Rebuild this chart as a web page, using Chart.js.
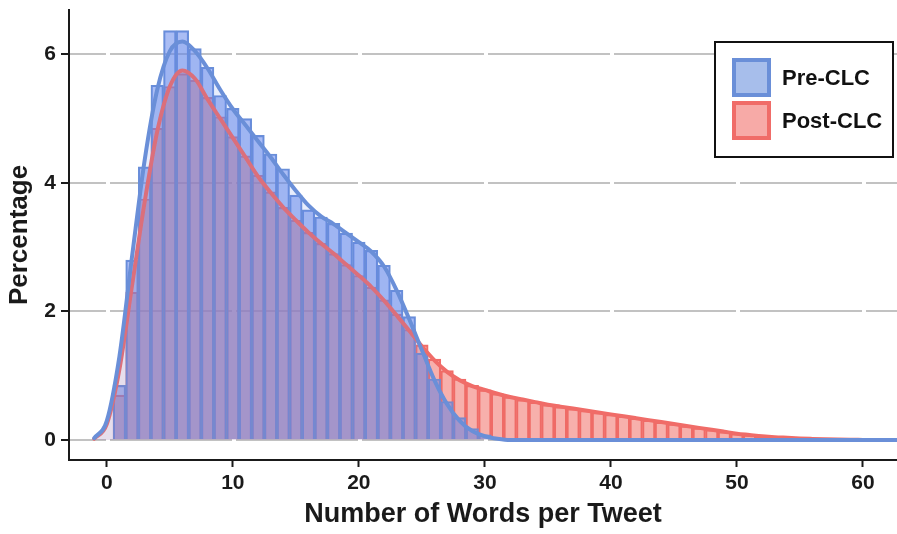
<!DOCTYPE html>
<html>
<head>
<meta charset="utf-8">
<script src="https://cdn.jsdelivr.net/npm/chart.js@4.4.0/dist/chart.umd.min.js"></script>
<style>
    body { margin: 0; background: #fff; }
    #wrap { width: 897px; height: 534px; position: relative; }
</style>
</head>
<body>
<div id="wrap"><canvas id="wordsChart"></canvas></div>
<script>
// Words per tweet, pre vs post character limit change

const seriesNames = ['Pre-CLC', 'Post-CLC'];

// histogram bins (one word wide)
const wordBins = [1, 2, 3, 4, 5, 6, 7, 8, 9, 10, 11, 12, 13, 14, 15, 16, 17, 18, 19, 20,
    21, 22, 23, 24, 25, 26, 27, 28, 29, 30, 31, 32, 33, 34, 35, 36, 37, 38, 39, 40,
    41, 42, 43, 44, 45, 46, 47, 48, 49, 50, 51, 52, 53, 54, 55, 56, 57, 58];

const preBars = [0.85, 2.8, 4.25, 5.52, 6.37, 6.37, 6.09, 5.8, 5.36, 5.16, 5.0, 4.74, 4.45, 4.22, 3.81,
    3.58, 3.47, 3.37, 3.22, 3.08, 2.95, 2.72, 2.33, 1.92, 1.35, 0.95, 0.6, 0.35, 0.18, 0.08, 0.03,
    0, 0, 0, 0, 0, 0, 0, 0, 0, 0, 0, 0, 0, 0, 0, 0, 0, 0, 0, 0, 0, 0, 0, 0, 0, 0, 0];

const postBars = [0.7, 2.3, 3.75, 4.85, 5.5, 5.7, 5.6, 5.33, 5.03, 4.72, 4.42, 4.12, 3.86, 3.62, 3.42,
    3.23, 3.06, 2.9, 2.73, 2.56, 2.38, 2.18, 1.96, 1.72, 1.48, 1.26, 1.08, 0.95, 0.85, 0.78,
    0.72, 0.67, 0.63, 0.59, 0.55, 0.52, 0.49, 0.46, 0.43, 0.4, 0.37, 0.34, 0.31, 0.28, 0.25,
    0.22, 0.19, 0.16, 0.13, 0.1, 0.08, 0.06, 0.045, 0.035, 0.025, 0.018, 0.012, 0.008];

// density curves
const densityX = [-1, 0, 1, 2, 3, 4, 5, 6, 7, 8, 9, 10, 11, 12, 13, 14, 15, 16, 17, 18, 19, 20,
    21, 22, 23, 24, 25, 26, 27, 28, 29, 30, 31, 32, 33, 34, 35, 36, 37, 38, 39, 40,
    41, 42, 43, 44, 45, 46, 47, 48, 49, 50, 51, 52, 53, 54, 55, 56, 57, 58, 59, 60, 61, 62, 63];

const preDensity = [0.03, 0.3, 1.3, 2.85, 4.35, 5.45, 6.05, 6.2, 6.05, 5.78, 5.45, 5.15, 4.9, 4.65,
    4.4, 4.13, 3.88, 3.65, 3.48, 3.36, 3.22, 3.08, 2.93, 2.7, 2.33, 1.88, 1.4, 0.93, 0.56, 0.3,
    0.14, 0.06, 0.02, 0, 0, 0, 0, 0, 0, 0, 0, 0, 0, 0, 0, 0, 0, 0, 0, 0, 0, 0, 0, 0, 0, 0, 0, 0,
    0, 0, 0, 0, 0, 0, 0];

const postDensity = [0.02, 0.25, 1.1, 2.4, 3.7, 4.8, 5.5, 5.75, 5.62, 5.3, 5.0, 4.7, 4.4, 4.1, 3.85,
    3.62, 3.42, 3.23, 3.06, 2.9, 2.73, 2.56, 2.38, 2.17, 1.94, 1.7, 1.46, 1.24, 1.06, 0.93, 0.84,
    0.78, 0.72, 0.67, 0.63, 0.59, 0.55, 0.52, 0.49, 0.46, 0.43, 0.4, 0.37, 0.34, 0.31, 0.28, 0.25,
    0.22, 0.19, 0.16, 0.13, 0.1, 0.08, 0.06, 0.045, 0.035, 0.025, 0.018, 0.012, 0.008, 0.005,
    0.003, 0.001, 0, 0];

const xTickVals = [0, 10, 20, 30, 40, 50, 60];
const yTickVals = [0, 2, 4, 6];

const FONT = "'Liberation Sans', Arial, Helvetica, sans-serif";
const BLUE = '#6a8fd8';
const RED = '#f06c68';
const BLUE_FILL = 'rgba(100, 135, 235, 0.55)';
const RED_FILL = 'rgba(240, 110, 105, 0.48)';

function pairs(xs, ys) {
    return xs.map((x, i) => ({ x: x, y: ys[i] }));
}

// boxed legend in the top right corner
const boxLegend = {
    id: 'boxLegend',
    afterDraw(chart) {
        const ctx = chart.ctx;
        const left = 715, top = 42, w = 178, h = 115;
        ctx.save();
        ctx.fillStyle = '#fff';
        ctx.fillRect(left, top, w, h);
        ctx.strokeStyle = '#111';
        ctx.lineWidth = 2;
        ctx.strokeRect(left, top, w, h);

        const keys = [
            { fill: 'rgba(120, 155, 225, 0.65)', stroke: BLUE },
            { fill: 'rgba(242, 125, 120, 0.65)', stroke: RED }
        ];
        keys.forEach((k, i) => {
            const ky = top + 16 + i * 43;
            ctx.fillStyle = '#fff';
            ctx.fillRect(left + 17, ky, 39, 39);
            ctx.fillStyle = k.fill;
            ctx.fillRect(left + 17, ky, 39, 39);
            ctx.strokeStyle = k.stroke;
            ctx.lineWidth = 4;
            ctx.strokeRect(left + 19, ky + 2, 35, 35);
            ctx.fillStyle = '#111';
            ctx.font = 'bold 22px ' + FONT;
            ctx.textBaseline = 'middle';
            ctx.fillText(seriesNames[i], left + 67, ky + 21);
        });
        ctx.restore();
    }
};

function initChart() {
    const ctx = document.getElementById('wordsChart');
    new Chart(ctx, {
        type: 'bar',
        data: {
            datasets: [
                {
                    type: 'line',
                    label: seriesNames[0] + ' density',
                    data: pairs(densityX, preDensity),
                    borderColor: BLUE,
                    backgroundColor: 'rgba(100, 135, 235, 0.15)',
                    borderWidth: 4,
                    pointRadius: 0,
                    fill: 'origin',
                    cubicInterpolationMode: 'monotone',
                    borderCapStyle: 'round',
                    order: 0
                },
                {
                    type: 'line',
                    label: seriesNames[1] + ' density',
                    data: pairs(densityX, postDensity),
                    borderColor: RED,
                    backgroundColor: 'rgba(240, 105, 100, 0.12)',
                    borderWidth: 4,
                    pointRadius: 0,
                    fill: 'origin',
                    cubicInterpolationMode: 'monotone',
                    borderCapStyle: 'round',
                    order: 1
                },
                {
                    label: seriesNames[0],
                    data: pairs(wordBins, preBars),
                    backgroundColor: BLUE_FILL,
                    borderColor: BLUE,
                    borderWidth: 1.5,
                    grouped: false,
                    barPercentage: 1,
                    categoryPercentage: 1,
                    order: 2
                },
                {
                    label: seriesNames[1],
                    data: pairs(wordBins, postBars),
                    backgroundColor: RED_FILL,
                    borderColor: RED,
                    borderWidth: 1.5,
                    grouped: false,
                    barPercentage: 1,
                    categoryPercentage: 1,
                    order: 3
                }
            ]
        },
        options: {
            responsive: true,
            maintainAspectRatio: false,
            animation: false,
            devicePixelRatio: 1,
            layout: { padding: { top: 10, right: 0, left: 0, bottom: 0 } },
            plugins: {
                legend: { display: false },
                tooltip: { enabled: false }
            },
            scales: {
                x: {
                    type: 'linear',
                    min: -3,
                    max: 62.7,
                    offset: false,
                    afterBuildTicks: s => { s.ticks = xTickVals.map(v => ({ value: v })); },
                    afterFit: s => { s.height = 74; s.paddingLeft = 0; s.paddingRight = 0; },
                    ticks: {
                        color: '#1a1a1a',
                        font: { family: FONT, size: 21, weight: 'bold' },
                        padding: 4,
                        maxRotation: 0,
                        autoSkip: false
                    },
                    grid: {
                        offset: false,
                        drawOnChartArea: false,
                        drawTicks: true,
                        tickLength: 7,
                        tickColor: '#1a1a1a',
                        tickWidth: 2
                    },
                    border: { display: true, color: '#1a1a1a', width: 2 },
                    title: {
                        display: true,
                        text: 'Number of Words per Tweet',
                        color: '#1a1a1a',
                        font: { family: FONT, size: 27, weight: 'bold' },
                        padding: { top: 0, bottom: 3 }
                    }
                },
                y: {
                    min: -0.31,
                    max: 6.69,
                    afterBuildTicks: s => { s.ticks = yTickVals.map(v => ({ value: v })); },
                    afterFit: s => { s.width = 69; s.paddingTop = 0; s.paddingBottom = 0; },
                    ticks: {
                        color: '#1a1a1a',
                        font: { family: FONT, size: 21, weight: 'bold' },
                        padding: 5
                    },
                    grid: {
                        color: '#c2c2c2',
                        lineWidth: 2,
                        drawTicks: true,
                        tickLength: 8,
                        tickColor: '#1a1a1a',
                        tickWidth: 2
                    },
                    border: { display: true, color: '#1a1a1a', width: 2, dash: [122, 4], dashOffset: 86 },
                    title: {
                        display: true,
                        text: 'Percentage',
                        color: '#1a1a1a',
                        font: { family: FONT, size: 26, weight: 'bold' },
                        padding: { top: 4, bottom: 0 }
                    }
                }
            }
        },
        plugins: [boxLegend]
    });
}

document.addEventListener('DOMContentLoaded', initChart);
</script>
</body>
</html>
